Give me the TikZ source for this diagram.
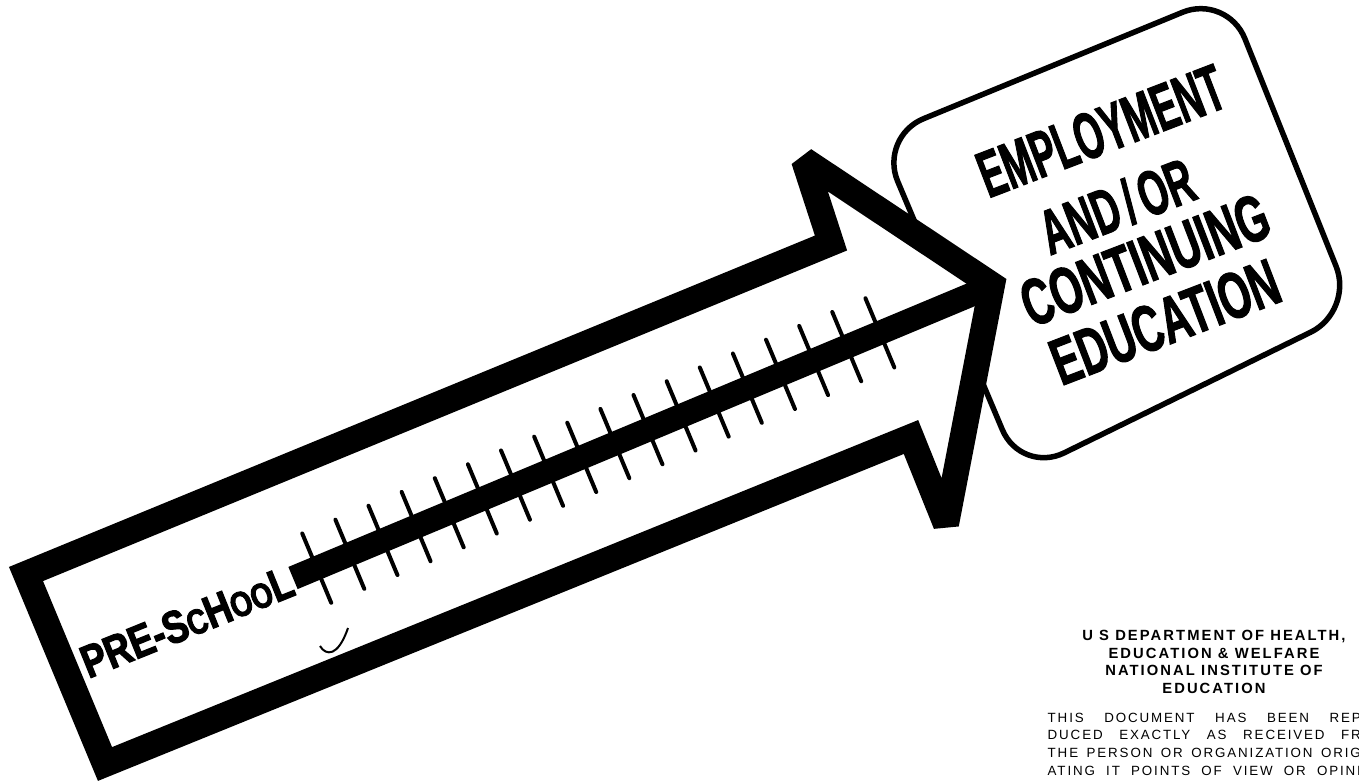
\documentclass[tikz,border=0pt]{standalone}
\usepackage{graphicx}
\usepackage{fontspec}
\setmainfont{Liberation Sans}
\newfontfamily\condfont[FakeStretch=0.6, FakeBold=1.5]{Liberation Sans}
\newfontfamily\handfont[FakeStretch=0.8, FakeBold=2.5]{Liberation Sans}
\newfontfamily\deptfont[LetterSpace=14]{Liberation Sans}
\usetikzlibrary{calc}

\begin{document}
\begin{tikzpicture}[
        x=0.01cm, y=-0.01cm,
        signbox/.style={line width=0.055cm},
        bigarrow/.style={line width=0.26cm, line join=miter, miter limit=2, fill=white},
        stem/.style={line width=0.24cm, line cap=butt},
        tickmark/.style={line width=0.04cm, line cap=round},
        goaltext/.style={font=\condfont\bfseries, rotate=21, inner sep=0pt},
        schooltext/.style={font=\handfont\bfseries\fontsize{13}{13}\selectfont, rotate=22, inner sep=0pt},
        depttext/.style={font=\deptfont\bfseries\fontsize{4.2}{5}\selectfont, align=center, inner sep=0pt},
        notetext/.style={font=\deptfont\fontsize{3.8}{4.5}\selectfont, anchor=west, inner sep=0pt},
        pen/.style={line width=0.02cm}
    ]
    \useasboundingbox (0,0) rectangle (1359,781);

    % --- Goal box ---
    \coordinate (boxTL) at (879,137);
    \coordinate (boxTR) at (1227,-6);
    \coordinate (boxBR) at (1354,311);
    \coordinate (boxBL) at (1021,474);
    \draw[signbox, rounded corners=0.48cm] ($(boxTL)!0.5!(boxTR)$) -- (boxTR) -- (boxBR) -- (boxBL) -- (boxTL) -- cycle;

    % --- Arrow outline ---
    \coordinate (tailtop) at (26,574);
    \coordinate (shouldertop) at (831,243);
    \coordinate (barbtop) at (804,160);
    \coordinate (tip) at (992,285);
    \coordinate (barbbot) at (946,524);
    \coordinate (shoulderbot) at (911,437);
    \coordinate (tailbot) at (105,764);
    \draw[bigarrow] (tailtop) -- (shouldertop) -- (barbtop) -- (tip) -- (barbbot) -- (shoulderbot) -- (tailbot) -- cycle;

    % --- Scale bar ---
    \coordinate (stemL) at (293,578);
    \coordinate (stemR) at (980,291);
    \draw[stem] (stemL) -- (stemR);
    \foreach \i in {0,...,17}{
        \pgfmathsetmacro\pos{(25.7+35.9*\i)/744.5}
        \coordinate (t\i) at ($(stemL)!\pos!(stemR)$);
        \draw[tickmark] ($(t\i)!0.375cm!90:(stemR)$) -- ($(t\i)!0.375cm!-90:(stemR)$);
    }

    % --- Labels ---
    \node[schooltext] (pre) at (187,622) {PRE-S{\fontsize{10}{10}\selectfont C}H{\fontsize{10}{10}\selectfont OO}L};
    \draw[pen] (320,646) .. controls (326,656) and (338,657) .. (348,628);

    \node[goaltext] (emp) at (1101,131) {\resizebox{2.58cm}{0.46cm}{EMPLOYMENT}};
    \node[goaltext] (andor) at (1117,206) {\resizebox{1.60cm}{0.46cm}{AND\kern1pt/\kern1pt OR}};
    \node[goaltext] (cont) at (1145,260) {\resizebox{2.60cm}{0.46cm}{CONTINUING}};
    \node[goaltext] (edu) at (1165,322) {\resizebox{2.39cm}{0.46cm}{EDUCATION}};

    % --- Notice ---
    \node[depttext] (dept) at (1214,662) {U S DEPARTMENT OF HEALTH,\\EDUCATION \& WELFARE\\NATIONAL INSTITUTE OF\\EDUCATION};
    \node[notetext] (note1) at (1047,718) {\makebox[3.13cm][s]{THIS DOCUMENT HAS BEEN REP}};
    \node[notetext] (note2) at (1047,735) {\makebox[3.13cm][s]{DUCED EXACTLY AS RECEIVED FR}};
    \node[notetext] (note3) at (1047,753) {\makebox[3.13cm][s]{THE PERSON OR ORGANIZATION ORIG}};
    \node[notetext] (note4) at (1047,771) {\makebox[3.13cm][s]{ATING IT POINTS OF VIEW OR OPINI}};

\end{tikzpicture}
\end{document}
